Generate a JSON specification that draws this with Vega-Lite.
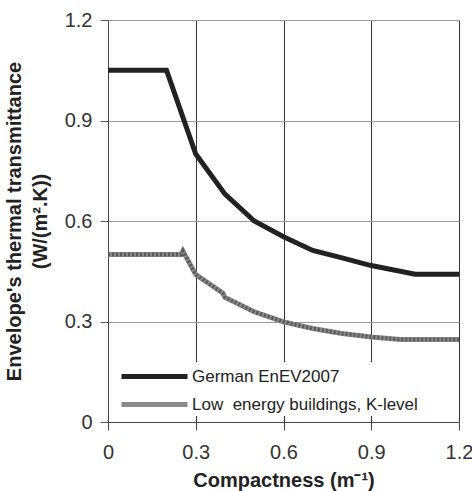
{
  "$schema": "https://vega.github.io/schema/vega-lite/v6.json",
  "width": 351,
  "height": 402,
  "autosize": "none",
  "padding": {"left": 108, "top": 20, "right": 13, "bottom": 69},
  "background": "white",
  "config": {"view": {"stroke": null}, "font": "Liberation Sans"},
  "data": {
    "values": [
      {"c": 0, "u": 1.05, "s": "German EnEV2007"},
      {"c": 0.2, "u": 1.05, "s": "German EnEV2007"},
      {"c": 0.3, "u": 0.8, "s": "German EnEV2007"},
      {"c": 0.4, "u": 0.68, "s": "German EnEV2007"},
      {"c": 0.5, "u": 0.6, "s": "German EnEV2007"},
      {"c": 0.6, "u": 0.553, "s": "German EnEV2007"},
      {"c": 0.7, "u": 0.512, "s": "German EnEV2007"},
      {"c": 0.8, "u": 0.49, "s": "German EnEV2007"},
      {"c": 0.9, "u": 0.467, "s": "German EnEV2007"},
      {"c": 1.05, "u": 0.441, "s": "German EnEV2007"},
      {"c": 1.2, "u": 0.441, "s": "German EnEV2007"},
      {"c": 0, "u": 0.5, "s": "Low\u00a0 energy buildings, K-level"},
      {"c": 0.25, "u": 0.5, "s": "Low\u00a0 energy buildings, K-level"},
      {"c": 0.256, "u": 0.51, "s": "Low\u00a0 energy buildings, K-level"},
      {"c": 0.3, "u": 0.44, "s": "Low\u00a0 energy buildings, K-level"},
      {"c": 0.392, "u": 0.385, "s": "Low\u00a0 energy buildings, K-level"},
      {"c": 0.4, "u": 0.372, "s": "Low\u00a0 energy buildings, K-level"},
      {"c": 0.5, "u": 0.329, "s": "Low\u00a0 energy buildings, K-level"},
      {"c": 0.6, "u": 0.299, "s": "Low\u00a0 energy buildings, K-level"},
      {"c": 0.7, "u": 0.279, "s": "Low\u00a0 energy buildings, K-level"},
      {"c": 0.8, "u": 0.264, "s": "Low\u00a0 energy buildings, K-level"},
      {"c": 0.9, "u": 0.254, "s": "Low\u00a0 energy buildings, K-level"},
      {"c": 1.0, "u": 0.246, "s": "Low\u00a0 energy buildings, K-level"},
      {"c": 1.2, "u": 0.246, "s": "Low\u00a0 energy buildings, K-level"}
    ]
  },
  "layer": [
    {
      "mark": {"type": "line", "strokeWidth": 5, "strokeCap": "butt"},
      "encoding": {
        "x": {
          "field": "c", "type": "quantitative",
          "scale": {"domain": [0, 1.2], "nice": false, "zero": false},
          "axis": {
            "values": [0, 0.3, 0.6, 0.9, 1.2], "format": ".1~f",
            "title": "Compactness (m⁻¹)",
            "gridColor": "#333333", "gridWidth": 1, "gridOpacity": 1,
            "domainColor": "#444444", "tickColor": "#444444", "tickSize": 8,
            "labelPadding": 12, "labelFontSize": 20, "labelColor": "#333333", "labelFlush": false,
            "titleFontSize": 20, "titleFontWeight": "bold", "titlePadding": 8, "titleColor": "#222222"
          }
        },
        "y": {
          "field": "u", "type": "quantitative",
          "scale": {"domain": [0, 1.2], "nice": false, "zero": false},
          "axis": {
            "values": [0, 0.3, 0.6, 0.9, 1.2], "format": ".1~f",
            "title": ["Envelope's thermal transmittance", "(W/(m².K))"],
            "gridColor": "#9a9a9a", "gridWidth": 1, "gridOpacity": 1,
            "domainColor": "#444444", "tickColor": "#555555", "tickSize": 8,
            "labelPadding": 8, "labelFontSize": 20, "labelColor": "#333333",
            "titleFontSize": 20, "titleFontWeight": "bold", "titlePadding": 14, "titleColor": "#222222",
            "titleLineHeight": 26
          }
        },
        "color": {
          "field": "s", "type": "nominal",
          "scale": {"domain": ["German EnEV2007", "Low\u00a0 energy buildings, K-level"], "range": ["#222222", "#8a8a8a"]},
          "legend": {
            "title": null, "orient": "none", "legendX": 10, "legendY": 342,
            "padding": 1, "fillColor": "white", "strokeColor": null,
            "symbolType": "M-1,0H5", "symbolSize": 484, "symbolStrokeWidth": 5,
            "labelFontSize": 17, "labelOffset": 46, "rowPadding": 4,
            "labelColor": "#222222", "labelLimit": 400
          }
        }
      }
    },
    {
      "transform": [{"filter": "datum.s !== 'German EnEV2007'"}],
      "mark": {"type": "line", "strokeWidth": 4, "strokeDash": [2, 2], "stroke": "#5a5a5a", "strokeCap": "butt"},
      "encoding": {
        "x": {"field": "c", "type": "quantitative"},
        "y": {"field": "u", "type": "quantitative"}
      }
    }
  ]
}
